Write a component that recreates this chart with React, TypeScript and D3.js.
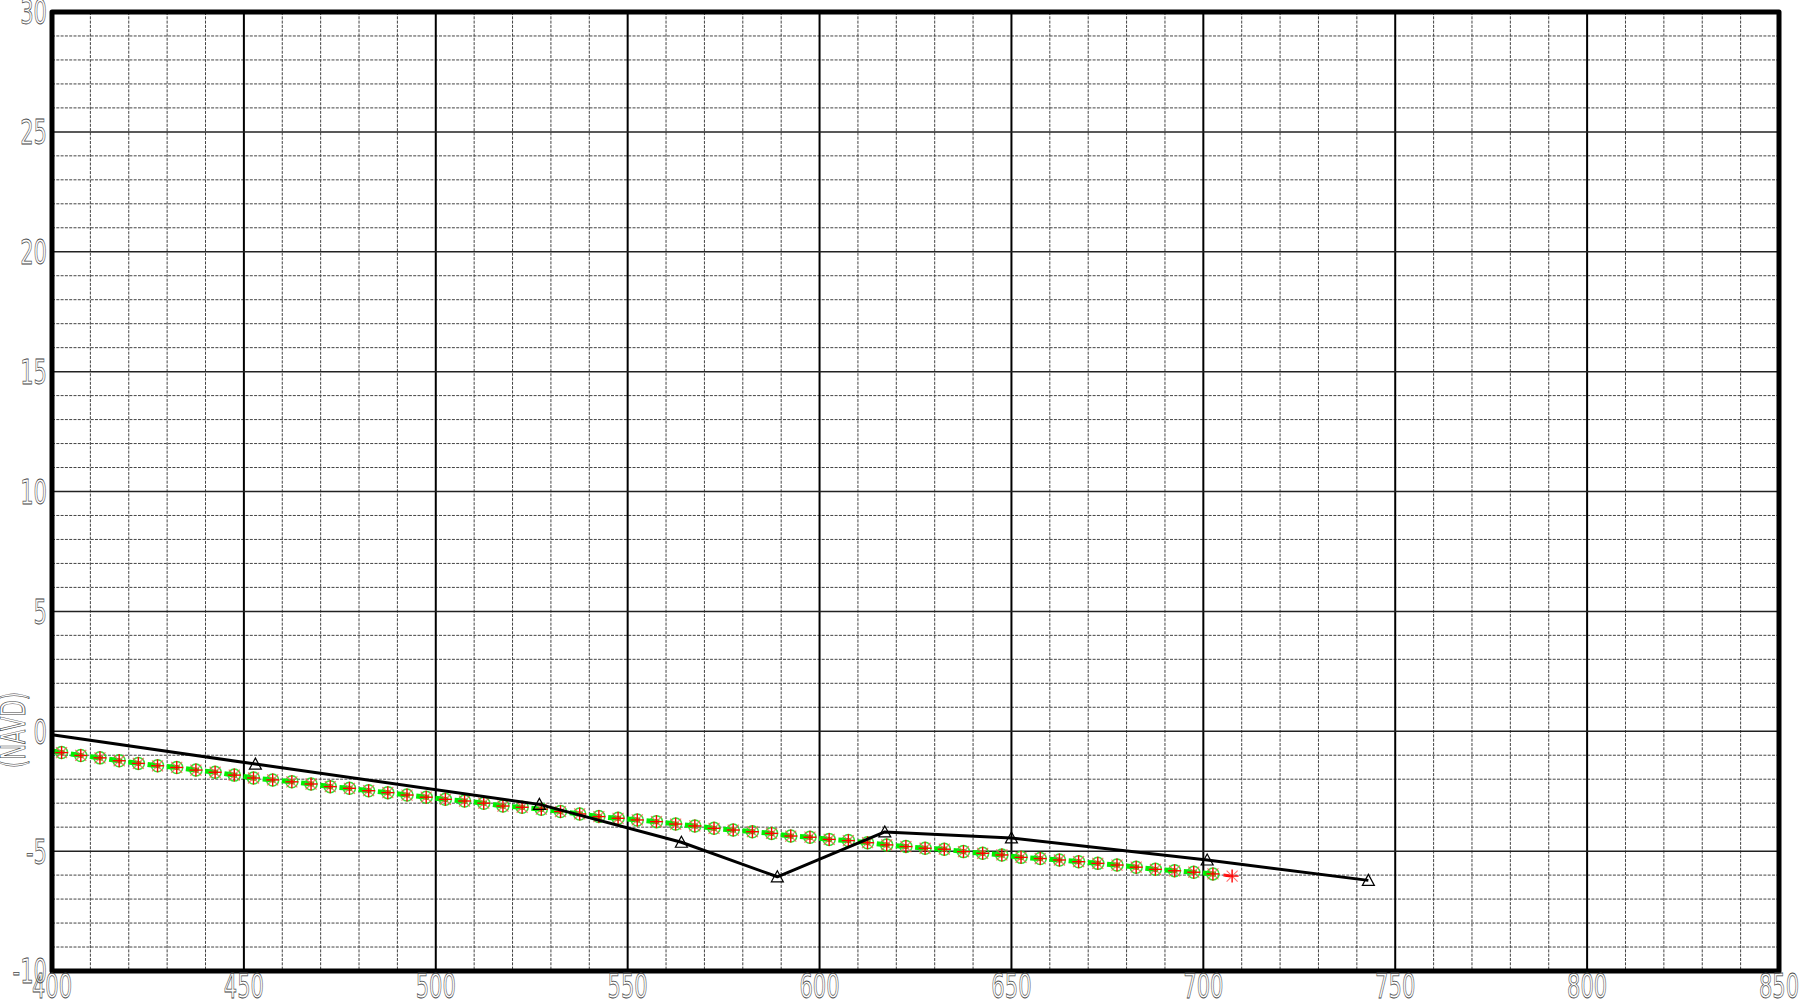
import React from "react";
import * as d3 from "d3";

// ---- data ----
const xTickLabels = [400, 450, 500, 550, 600, 650, 700, 750, 800, 850];
const yTickLabels = [-10, -5, 0, 5, 10, 15, 20, 25, 30];
const yAxisTitle = "(NAVD)";

// existing ground profile (black line with triangles)
const groundStation = [400, 453, 527, 564, 589, 617, 650, 701, 743];
const groundElev = [-0.15, -1.37, -3.05, -4.63, -6.07, -4.2, -4.45, -5.37, -6.22];
const groundMarkerStation = [453, 527, 564, 589, 617, 650, 701, 743];
const groundMarkerElev = [-1.37, -3.05, -4.63, -6.07, -4.2, -4.45, -5.37, -6.22];

// profile stations (red series has one more point)
const profileStation = [
  402.5, 407.5, 412.5, 417.5, 422.5, 427.5, 432.5, 437.5, 442.5, 447.5,
  452.5, 457.5, 462.5, 467.5, 472.5, 477.5, 482.5, 487.5, 492.5, 497.5,
  502.5, 507.5, 512.5, 517.5, 522.5, 527.5, 532.5, 537.5, 542.5, 547.5,
  552.5, 557.5, 562.5, 567.5, 572.5, 577.5, 582.5, 587.5, 592.5, 597.5,
  602.5, 607.5, 612.5, 617.5, 622.5, 627.5, 632.5, 637.5, 642.5, 647.5,
  652.5, 657.5, 662.5, 667.5, 672.5, 677.5, 682.5, 687.5, 692.5, 697.5,
  702.5, 707.5,
];
const redElev = [
  -0.89, -1.01, -1.11, -1.23, -1.34, -1.44, -1.51, -1.62, -1.71, -1.83,
  -1.95, -2.03, -2.11, -2.2, -2.31, -2.38, -2.48, -2.56, -2.66, -2.75,
  -2.84, -2.91, -3.0, -3.12, -3.17, -3.25, -3.35, -3.45, -3.56, -3.63,
  -3.7, -3.77, -3.87, -3.95, -4.05, -4.12, -4.19, -4.26, -4.37, -4.42,
  -4.51, -4.56, -4.65, -4.74, -4.81, -4.88, -4.92, -5.02, -5.09, -5.16,
  -5.26, -5.31, -5.37, -5.44, -5.51, -5.58, -5.67, -5.76, -5.82, -5.88,
  -5.95, -6.04,
];
const greenElev = [
  -0.89, -1.01, -1.11, -1.23, -1.34, -1.44, -1.51, -1.62, -1.71, -1.83,
  -1.95, -2.03, -2.11, -2.2, -2.31, -2.38, -2.48, -2.56, -2.66, -2.75,
  -2.84, -2.91, -3.0, -3.12, -3.17, -3.25, -3.35, -3.45, -3.56, -3.63,
  -3.7, -3.77, -3.87, -3.95, -4.05, -4.12, -4.19, -4.26, -4.37, -4.42,
  -4.51, -4.56, -4.65, -4.74, -4.81, -4.88, -4.92, -5.02, -5.09, -5.16,
  -5.26, -5.31, -5.37, -5.44, -5.51, -5.58, -5.67, -5.76, -5.82, -5.88,
  -5.95,
];

const W = 1801;
const H = 1000;
const L = 52, R = 1779, T = 12, B = 971;

const x = d3.scaleLinear().domain([400, 850]).range([L, R]);
const y = d3.scaleLinear().domain([-10, 30]).range([B, T]);

const textStyle = {
  fontFamily: "DejaVu Sans, sans-serif",
  fontSize: 34,
  fill: "none",
  stroke: "#444",
  strokeWidth: 0.8,
};
const SX = 0.62;

function barSegs(xs: number[], ys: number[], a: number, b: number) {
  const pts = xs.map((v, i) => [x(v), y(ys[i])]);
  return pts.map((p, i) => {
    let q;
    if (i > 0) q = pts[i - 1];
    else q = [2 * p[0] - pts[1][0], 2 * p[1] - pts[1][1]];
    const dx = q[0] - p[0], dy = q[1] - p[1];
    return { x1: p[0] + a * dx, y1: p[1] + a * dy, x2: p[0] + b * dx, y2: p[1] + b * dy };
  });
}

export default function App() {
  const minorX = d3.range(410, 850, 10).filter((v) => v % 50 !== 0);
  const minorY = d3.range(-9, 30, 1).filter((v) => v % 5 !== 0);
  const majorX = xTickLabels.filter((v) => v > 400 && v < 850);
  const majorY = yTickLabels.filter((v) => v > -10 && v < 30);

  const groundLine = d3
    .line<number>()
    .x((d) => x(d))
    .y((_, i) => y(groundElev[i]))(groundStation);

  const redPts = profileStation.slice(0, redElev.length);
  const greenPts = profileStation.slice(0, greenElev.length);
  const redBars = barSegs(redPts, redElev, 0.45, 0.08);
  const greenBars = barSegs(greenPts, greenElev, 0.52, -0.15);

  return (
    <svg
      width={W}
      height={H}
      style={{ position: "absolute", left: 0, top: 0, background: "#fff" }}
    >
      <rect x={0} y={0} width={W} height={H} fill="#fff" />
      {/* minor grid */}
      <g stroke="#444" strokeWidth={1} strokeDasharray="3,1.3">
        {minorX.map((v) => (
          <line key={"mx" + v} x1={x(v)} x2={x(v)} y1={T} y2={B} />
        ))}
        {minorY.map((v) => (
          <line key={"my" + v} x1={L} x2={R} y1={y(v)} y2={y(v)} />
        ))}
      </g>
      {/* major grid */}
      <g stroke="#000">
        {majorX.map((v) => (
          <line key={"Mx" + v} x1={x(v)} x2={x(v)} y1={T} y2={B} strokeWidth={2} />
        ))}
        {majorY.map((v) => (
          <line key={"My" + v} x1={L} x2={R} y1={y(v)} y2={y(v)} strokeWidth={1.5} stroke="#222" />
        ))}
      </g>

      {/* red series dashes */}
      <g stroke="#ff1a1a" strokeWidth={3}>
        {redBars.map((s, i) => (
          <line key={"rb" + i} {...s} />
        ))}
      </g>
      {/* green series dashes */}
      <g stroke="#00f000" strokeWidth={5}>
        {greenBars.map((s, i) => (
          <line key={"gb" + i} {...s} />
        ))}
      </g>
      {/* green circles */}
      <g stroke="#22e022" strokeWidth={1.5} fill="none" opacity={0.9}>
        {greenPts.map((v, i) => (
          <circle key={"gc" + i} cx={x(v)} cy={y(greenElev[i])} r={6} />
        ))}
      </g>
      {/* red asterisks */}
      <g>
        {redPts.map((v, i) => {
          const cx = x(v), cy = y(redElev[i]);
          return (
            <g key={"ra" + i}>
              <line x1={cx - 5.5} y1={cy - 5.5} x2={cx + 5.5} y2={cy + 5.5} stroke="#ff4a4a" strokeWidth={1.1} opacity={0.8} />
              <line x1={cx - 5.5} y1={cy + 5.5} x2={cx + 5.5} y2={cy - 5.5} stroke="#ff4a4a" strokeWidth={1.1} opacity={0.8} />
              <line x1={cx - 6.5} y1={cy} x2={cx + 6.5} y2={cy} stroke="#ff0000" strokeWidth={1.4} />
              <line x1={cx} y1={cy - 6.5} x2={cx} y2={cy + 6.5} stroke="#ff0000" strokeWidth={1.4} />
            </g>
          );
        })}
      </g>

      {/* ground line */}
      <path d={groundLine || ""} fill="none" stroke="#000" strokeWidth={3} strokeLinejoin="round" />
      <g fill="none" stroke="#000" strokeWidth={1.2}>
        {groundMarkerStation.map((v, i) => {
          const cx = x(v), cy = y(groundMarkerElev[i]);
          return (
            <path
              key={"tri" + i}
              d={`M${cx},${cy - 6}L${cx + 6},${cy + 5}L${cx - 6},${cy + 5}Z`}
            />
          );
        })}
      </g>

      {/* frame */}
      <rect
        x={L}
        y={T}
        width={R - L}
        height={B - T}
        fill="none"
        stroke="#000"
        strokeWidth={5}
        strokeLinejoin="round"
      />

      {/* y tick labels */}
      {yTickLabels.map((v) => (
        <text
          key={"yl" + v}
          transform={`translate(47,${y(v) + 12.4}) scale(${SX},1)`}
          textAnchor="end"
          style={textStyle}
        >
          {v < 0 ? "-" + Math.abs(v) : String(v)}
        </text>
      ))}
      {/* x tick labels */}
      {xTickLabels.map((v) => (
        <text
          key={"xl" + v}
          transform={`translate(${x(v)},${998}) scale(${SX},1)`}
          textAnchor="middle"
          style={textStyle}
        >
          {String(v)}
        </text>
      ))}
      {/* y axis title */}
      <text
        transform={`translate(25,730) rotate(-90) scale(${SX},1)`}
        textAnchor="middle"
        style={textStyle}
      >
        {yAxisTitle}
      </text>
    </svg>
  );
}
